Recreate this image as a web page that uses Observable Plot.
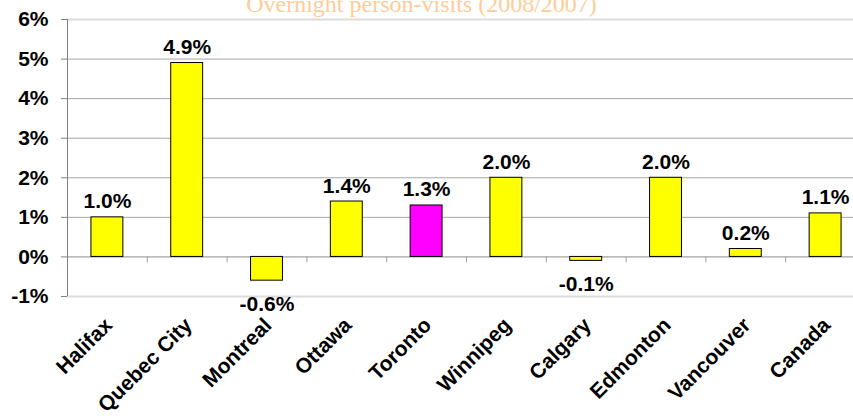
<!DOCTYPE html>
<html>
<head>
<meta charset="utf-8">
<script src="https://cdn.jsdelivr.net/npm/d3@7"></script>
<script src="https://cdn.jsdelivr.net/npm/@observablehq/plot@0.6"></script>
<style>
  html, body { margin: 0; padding: 0; background: #fff; overflow: hidden; }
  #chart svg { overflow: hidden; display: block; }
</style>
</head>
<body>
<div id="chart"></div>
<script>
const categories = ["Halifax", "Quebec City", "Montreal", "Ottawa", "Toronto", "Winnipeg", "Calgary", "Edmonton", "Vancouver", "Canada"];
const values = [1.0, 4.9, -0.6, 1.4, 1.3, 2.0, -0.1, 2.0, 0.2, 1.1];
const highlighted = ["Toronto"];
const yTicks = [-1, 0, 1, 2, 3, 4, 5, 6];
const title = "Overnight person-visits (2008/2007)";

const data = categories.map((c, i) => ({city: c, value: values[i]}));
const font = "'Liberation Sans', Arial, sans-serif";
const step = 79.8;

const chart = Plot.plot({
  width: 853,
  height: 416,
  marginLeft: 67,
  marginRight: -12,
  marginTop: 19,
  marginBottom: 120,
  style: {fontFamily: font, background: "#fff", overflow: "hidden"},
  x: {domain: categories, paddingInner: 0.6, paddingOuter: 0.3, round: false, axis: null},
  y: {domain: [-1, 6], axis: null},
  marks: [
    Plot.ruleY(yTicks.filter(t => t > 0 && t < 6), {stroke: "#a6a6a6", strokeWidth: 1}),
    Plot.ruleY(yTicks.filter(t => t === 6 || t === -1), {stroke: "#dcdcdc", strokeWidth: 2}),
    Plot.ruleY([0], {stroke: "#8c8c8c", strokeWidth: 1}),
    Plot.ruleX(categories, {x: d => d, y1: 0, y2: -0.15, dx: -step / 2, stroke: "#a0a0a0"}),
    Plot.axisY({ticks: yTicks, label: null, tickSize: 6, tickPadding: 13, tickFormat: d => `${d}%`, fontSize: 21, fontWeight: "bold", fill: "#000", stroke: "#808080"}),
    Plot.ruleX([0], {x: () => categories[0], y1: -1, y2: 6, dx: -step / 2, stroke: "#808080"}),
    Plot.barY(data, {x: "city", y: "value", fill: d => highlighted.includes(d.city) ? "#ff00ff" : "#ffff00", stroke: "#000", strokeWidth: 1}),
    Plot.text(data.filter(d => d.value >= 0), {x: "city", y: "value", text: d => `${d.value.toFixed(1)}%`, lineAnchor: "bottom", dy: -9, fontSize: 21, fontWeight: "bold", fill: "#000"}),
    Plot.text(data.filter(d => d.value < 0), {x: "city", y: "value", text: d => `${d.value.toFixed(1)}%`, lineAnchor: "top", dy: 15, fontSize: 21, fontWeight: "bold", fill: "#000"}),
    Plot.text(categories, {x: d => d, frameAnchor: "bottom", rotate: -45, textAnchor: "end", dx: 6, dy: 30, fontSize: 21, fontWeight: "bold", fill: "#000"}),
    Plot.text([title], {frameAnchor: "top-left", dx: 354, dy: -8, textAnchor: "middle", lineAnchor: "bottom", fontSize: 24, fontFamily: "'Liberation Serif', 'Times New Roman', serif", fill: "#ffcc99"})
  ]
});
document.getElementById("chart").appendChild(chart);
</script>
</body>
</html>
